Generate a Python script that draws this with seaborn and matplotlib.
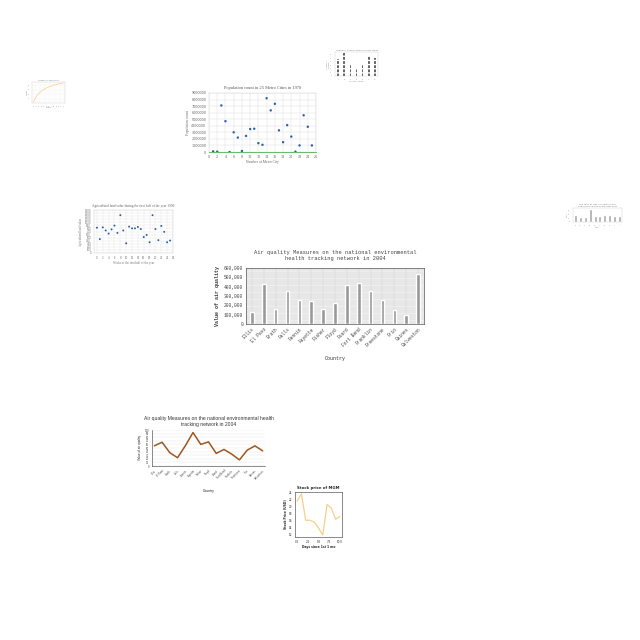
import numpy as np
import pandas as pd
import matplotlib
matplotlib.use('Agg')
import matplotlib.pyplot as plt
import seaborn as sns
from matplotlib.ticker import FuncFormatter, MultipleLocator

sns.set_style('white')

# main bar chart - air quality by county
counties = ['Ellis', 'El Paso', 'Erath', 'Falls', 'Fannin', 'Fayette', 'Fisher', 'Floyd',
            'Foard', 'Fort Bend', 'Franklin', 'Freestone', 'Frio', 'Gaines', 'Galveston']
air_values = [125000, 430000, 160000, 350000, 255000, 250000, 165000, 225000,
              420000, 435000, 350000, 260000, 155000, 100000, 540000]

# population scatter
metro_idx = list(range(1, 26))
metro_pop = [100000, 50000, 7100000, 4700000, 0, 3000000, 2200000, 150000, 2450000, 3500000,
             3550000, 1350000, 1100000, 8200000, 6350000, 7350000, 3300000, 1500000, 4100000,
             2350000, 50000, 1000000, 5600000, 3850000, 1000000]

# agricultural scatter
agri_idx = list(range(0, 26))
agri_vals = [824, 452, 835, 734, 632, 768, 892, 655, 1231, 734, 316, 858, 802, 802, 847, 779,
             519, 587, 350, 1231, 779, 418, 881, 689, 350, 406]

# small line chart of air quality
line_counties = ['Ellis', 'El Paso', 'Erath', 'Falls', 'Fannin', 'Fayette', 'Fisher', 'Floyd',
                 'Foard', 'Fort Bend', 'Franklin', 'Freestone', 'Frio', 'Gaines', 'Galveston']
line_vals = [56, 66, 37, 23, 56, 93, 60, 67, 35, 46, 33, 17, 44, 56, 42]

# stock price
stock_days = [0, 1, 2, 3, 4, 5, 6, 7, 8, 9, 10]
stock_price = [21.5, 23.5, 16.0, 16.0, 15.5, 13.8, 11.8, 20.5, 19.5, 16.3, 17.1]

# tiny growth curve
growth_x = [0, 1, 2, 3, 4, 5, 6, 7, 8, 9, 10, 11, 12]
growth_y = [0.5, 2.8, 4.2, 5.2, 6.0, 6.6, 7.1, 7.5, 7.9, 8.2, 8.5, 8.7, 8.9]

# tiny hatched bars
hatch_cats = ['A', 'B', 'C', 'D', 'E', 'F', 'G']
hatch_vals = [47, 64, 30, 20, 32, 57, 50]

# right bars
right_cats = ['a', 'b', 'c', 'd', 'e', 'f', 'g', 'h', 'i', 'j']
right_vals = [17, 14, 12, 34, 16, 16, 18, 17, 15, 15]

fig = plt.figure(figsize=(6.4, 6.4), dpi=100)


def ax_at(l, t, r, b):
    return fig.add_axes([l / 640, 1 - b / 640, (r - l) / 640, (b - t) / 640])


def thin(ax, lw=0.4, c='#999999'):
    for s in ax.spines.values():
        s.set_linewidth(lw)
        s.set_color(c)
    ax.tick_params(length=1, width=0.3, pad=1)


# ---- main bar chart
mono = 'Liberation Mono'
ax = ax_at(246, 268, 424, 324)
ax.set_facecolor('#eeeeee')
df = pd.DataFrame({'Country': counties, 'val': air_values})
sns.barplot(data=df, x='Country', y='val', color='#999999', width=0.3, ax=ax, zorder=3)
ax.set_ylim(0, 600000)
ax.yaxis.set_major_locator(MultipleLocator(100000))
ax.yaxis.set_minor_locator(MultipleLocator(25000))
ax.yaxis.set_major_formatter(FuncFormatter(lambda v, p: f'{int(v):,}'))
ax.grid(True, which='both', color='#d0d0d0', lw=0.3)
ax.set_axisbelow(True)
thin(ax, 0.5, '#555555')
ax.tick_params(axis='both', labelsize=3.3, colors='#444444')
for t in ax.get_yticklabels() + ax.get_xticklabels():
    t.set_family(mono)
plt.setp(ax.get_xticklabels(), rotation=45, ha='right', rotation_mode='anchor')
ax.set_xlabel('Country', fontsize=3.6, family=mono, color='#333333', labelpad=6)
ax.set_ylabel('Value of air quality', fontsize=3.6, family=mono, fontweight='bold',
              color='#333333', labelpad=3)
ax.set_title('Air quality Measures on the national environmental\nhealth tracking network in 2004',
             fontsize=3.9, family=mono, color='#444444', pad=6)

# ---- population scatter
serif = 'Liberation Serif'
ax = ax_at(209, 93, 316, 152)
sns.scatterplot(x=metro_idx, y=metro_pop, s=3, color='#2c5fa8', edgecolor='none', ax=ax, zorder=3)
ax.set_xlim(0, 26)
ax.set_ylim(0, 9000000)
ax.xaxis.set_major_locator(MultipleLocator(2))
ax.yaxis.set_major_locator(MultipleLocator(1000000))
ax.yaxis.set_major_formatter(FuncFormatter(lambda v, p: f'{int(v)}'))
ax.grid(True, color='#dddddd', lw=0.3)
thin(ax, 0.3, '#cccccc')
ax.spines['bottom'].set_color('#4caf50')
ax.spines['bottom'].set_linewidth(0.6)
ax.tick_params(labelsize=2.4, colors='#666666')
ax.set_title('Population count in 25 Metro Cities in 1970', fontsize=3.2, family=serif, color='#555555', pad=3)
ax.set_xlabel('Number of Metro City', fontsize=2.6, family=serif, color='#666666', labelpad=1)
ax.set_ylabel('Population count', fontsize=2.6, family=serif, color='#666666', labelpad=1)

# ---- agricultural scatter
ax = ax_at(94, 210, 173, 253)
sns.scatterplot(x=agri_idx, y=agri_vals, s=2, color='#2c5fa8', edgecolor='none', ax=ax, zorder=3)
ax.set_xlim(-1, 26)
ax.set_ylim(0, 1400)
ax.xaxis.set_major_locator(MultipleLocator(2))
ax.yaxis.set_major_locator(MultipleLocator(100))
ax.grid(True, color='#e3e3e3', lw=0.3)
thin(ax, 0.3, '#cccccc')
ax.tick_params(labelsize=1.9, colors='#777777')
ax.set_title('Agricultural land value during the first half of the year 1990', fontsize=2.4,
             family=serif, color='#666666', pad=2)
ax.set_xlabel('Weeks of the first half of the year', fontsize=2.2, family=serif, color='#777777', labelpad=1)
ax.set_ylabel('Agricultural land value', fontsize=2.2, family=serif, color='#777777', labelpad=1)

# ---- small line chart
sans = 'Liberation Sans'
ax = ax_at(152, 430, 265, 466)
sns.lineplot(x=line_counties, y=line_vals, color='#a0561f', lw=1.1, ax=ax, sort=False)
ax.set_ylim(0, 100)
ax.set_xlim(-0.3, 14.3)
ax.yaxis.set_major_locator(MultipleLocator(10))
ax.grid(True, axis='y', color='#e5e5e5', lw=0.3)
thin(ax, 0.4, '#333333')
ax.spines['top'].set_visible(False)
ax.spines['right'].set_visible(False)
ax.tick_params(labelsize=1.8, colors='#444444')
plt.setp(ax.get_xticklabels(), rotation=45, ha='right', rotation_mode='anchor')
ax.set_title('Air quality Measures on the national environmental health\ntracking network in 2004',
             fontsize=3.6, family=sans, color='#333333', pad=3)
ax.set_xlabel('Country', fontsize=2.4, family=sans, labelpad=6)
ax.set_ylabel('Value of air quality', fontsize=2.2, family=sans, labelpad=2)

# ---- stock price
ax = ax_at(295, 492, 342, 537)
sns.lineplot(x=stock_days, y=stock_price, color='#f6cf8a', lw=0.9, ax=ax)
ax.set_xlim(-0.5, 10.5)
thin(ax, 0.4, '#333333')
ax.tick_params(labelsize=2.0)
ax.set_title('Stock price of MGM', fontsize=2.8, fontweight='bold', pad=2)
ax.set_xlabel('Days since 1st 1 mo', fontsize=2.2, fontweight='bold', labelpad=1)
ax.set_ylabel('Stock Price (USD)', fontsize=2.2, fontweight='bold', labelpad=1)

# ---- tiny growth curve
ax = ax_at(32, 82, 65, 103)
sns.lineplot(x=growth_x, y=growth_y, color='#f6cf8a', lw=0.5, ax=ax)
ax.grid(True, color='#eeeeee', lw=0.2)
thin(ax, 0.2, '#bbbbbb')
ax.xaxis.set_major_locator(MultipleLocator(1))
ax.tick_params(labelsize=1.2, colors='#888888')
ax.set_title('Growth of the plant', fontsize=1.5, color='#777777', pad=1)
ax.set_xlabel('Weeks', fontsize=1.3, color='#888888', labelpad=0.5)
ax.set_ylabel('Height', fontsize=1.3, color='#888888', labelpad=0.5)

# ---- tiny hatched bars
ax = ax_at(335, 52, 378, 76)
sns.barplot(x=hatch_cats, y=hatch_vals, color='#666666', edgecolor='white', hatch='----',
            linewidth=0, width=0.25, ax=ax)
thin(ax, 0.2, '#bbbbbb')
ax.tick_params(labelsize=1.2, colors='#888888')
ax.set_title('Number of students enrolled in each course', fontsize=1.4, color='#777777', pad=1)
ax.set_xlabel('Courses offered', fontsize=1.3, color='#888888', labelpad=0.5)
ax.set_ylabel('Number of\nstudents', fontsize=1.3, color='#888888', labelpad=0.5)

# ---- right bars
ax = ax_at(573, 208, 622, 222)
sns.barplot(x=right_cats, y=right_vals, color='#aaaaaa', width=0.6, ax=ax)
thin(ax, 0.2, '#bbbbbb')
ax.tick_params(labelsize=1.2, colors='#888888')
plt.setp(ax.get_xticklabels(), rotation=45, ha='right', rotation_mode='anchor')
ax.set_title('Sex ratio by age 0-6 years in the\npopulation census of the year 2001', fontsize=1.6,
             color='#777777', pad=1)
ax.set_xlabel('State', fontsize=1.3, color='#888888', labelpad=0.5)
ax.set_ylabel('Ratio', fontsize=1.3, color='#888888', labelpad=0.5)

fig.savefig('out.png', dpi=100)
